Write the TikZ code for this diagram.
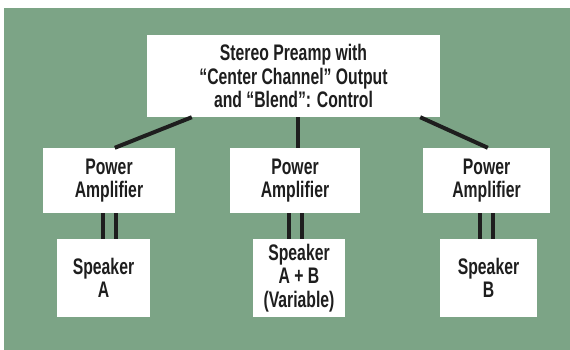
\documentclass[tikz,border=0pt]{standalone}
\usepackage{fontspec}
\setmainfont{Liberation Sans}[FakeStretch=0.7]
\usetikzlibrary{calc}
\definecolor{bggreen}{RGB}{124,164,134}
\definecolor{ink}{RGB}{30,30,30}
\begin{document}
\begin{tikzpicture}[x=1pt,y=-1pt,
  box/.style={draw=none,fill=white,align=center,inner sep=0pt,
    font=\bfseries\fontsize{22.5}{23.5}\selectfont,text=ink},
  wire/.style={draw=ink,line width=4pt}]
\useasboundingbox (0,0) rectangle (570,350);
\fill[white] (0,0) rectangle (570,350);
\fill[bggreen] (4,8) rectangle (570,350);
\node[box,minimum width=293pt,minimum height=82pt] (top) at (293.5,76)
  {Stereo Preamp with\\``Center Channel'' Output\\and ``Blend'': Control};
\node[box,minimum width=132pt,minimum height=65pt] (amp1) at (109,180.5) {Power\\Amplifier};
\node[box,minimum width=130pt,minimum height=65pt] (amp2) at (295,180.5) {Power\\Amplifier};
\node[box,minimum width=127pt,minimum height=65pt] (amp3) at (486.5,180.5) {Power\\Amplifier};
\node[box,minimum width=93pt,minimum height=78pt] (spk1) at (103.5,278) {Speaker\\A};
\node[box,minimum width=92pt,minimum height=78pt] (spk2) at (299,278) {Speaker\\A + B\\(Variable)};
\node[box,minimum width=97pt,minimum height=78pt] (spk3) at (488.5,278) {Speaker\\B};
\draw[wire] ([xshift=45pt]top.south west) -- ([xshift=72pt]amp1.north west);
\draw[wire] ([xshift=3pt]amp2.north) -- ([xshift=3pt]amp2.north |- top.south);
\draw[wire] ([xshift=-20pt]top.south east) -- ([xshift=65pt]amp3.north west);
\foreach \a/\s in {amp1/spk1,amp2/spk2,amp3/spk3}{
  \draw[wire] ([xshift=-6.5pt]\a.south) -- ([xshift=-6.5pt]\a.south |- \s.north);
  \draw[wire] ([xshift=6.5pt]\a.south) -- ([xshift=6.5pt]\a.south |- \s.north);
}
\end{tikzpicture}
\end{document}
